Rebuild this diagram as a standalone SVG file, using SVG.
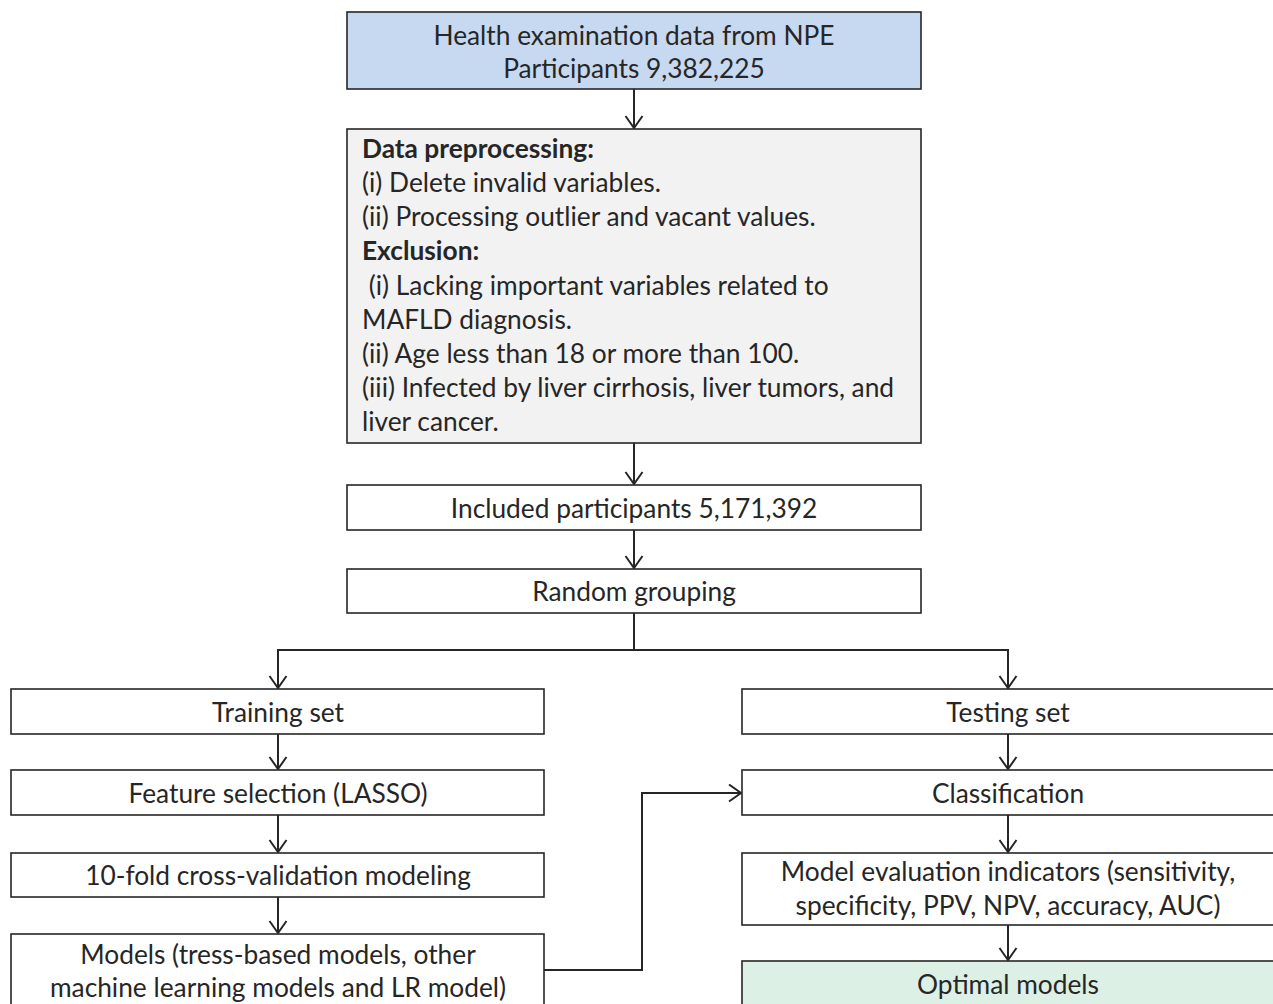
<svg xmlns="http://www.w3.org/2000/svg" width="1273" height="1004" viewBox="0 0 1273 1004">
<style>
.box{stroke:#262626;stroke-width:1.6;fill:#ffffff}
.blue{fill:#c6d9f1}
.grey{fill:#f2f2f2}
.green{fill:#dcf0e5}
text{font-family:Lato,"Liberation Sans",sans-serif;font-size:26.3px;fill:#262626}
.c{text-anchor:middle}
.b{font-weight:bold}
.conn{stroke:#262626;stroke-width:2;fill:none}
</style>
<defs>
<marker id="arr" markerWidth="16" markerHeight="20" refX="13" refY="9.5" orient="auto" markerUnits="userSpaceOnUse">
<path d="M1,1 L13,9.5 L1,18" fill="none" stroke="#262626" stroke-width="2"/>
</marker>
</defs>
<rect width="1273" height="1004" fill="#ffffff"/>
<g id="connectors">
<line class="conn" x1="634" y1="89" x2="634" y2="128" marker-end="url(#arr)"/>
<line class="conn" x1="634" y1="443" x2="634" y2="484" marker-end="url(#arr)"/>
<line class="conn" x1="634" y1="530" x2="634" y2="568" marker-end="url(#arr)"/>
<polyline class="conn" points="634,613 634,650 278,650 278,688" marker-end="url(#arr)"/>
<polyline class="conn" points="634,650 1008,650 1008,688" marker-end="url(#arr)"/>
<line class="conn" x1="278" y1="734" x2="278" y2="769" marker-end="url(#arr)"/>
<line class="conn" x1="278" y1="815" x2="278" y2="852" marker-end="url(#arr)"/>
<line class="conn" x1="278" y1="897" x2="278" y2="933" marker-end="url(#arr)"/>
<line class="conn" x1="1008" y1="734" x2="1008" y2="769" marker-end="url(#arr)"/>
<line class="conn" x1="1008" y1="815" x2="1008" y2="852" marker-end="url(#arr)"/>
<line class="conn" x1="1008" y1="925" x2="1008" y2="960" marker-end="url(#arr)"/>
<polyline class="conn" points="544,970 642,970 642,793 741,793" marker-end="url(#arr)"/>
</g>
<g id="n-source">
<rect class="box blue" x="347" y="12" width="574" height="77"/>
<text class="c" x="634" y="45">Health examination data from NPE</text>
<text class="c" x="634" y="78">Participants 9,382,225</text>
</g>
<g id="n-preprocess">
<rect class="box grey" x="347" y="129" width="574" height="314"/>
<text class="b" x="362" y="158">Data preprocessing:</text>
<text x="362" y="192">(i) Delete invalid variables.</text>
<text x="362" y="226">(ii) Processing outlier and vacant values.</text>
<text class="b" x="362" y="260">Exclusion:</text>
<text x="362" y="295" xml:space="preserve"> (i) Lacking important variables related to</text>
<text x="362" y="329">MAFLD diagnosis.</text>
<text x="362" y="363">(ii) Age less than 18 or more than 100.</text>
<text x="362" y="397">(iii) Infected by liver cirrhosis, liver tumors, and</text>
<text x="362" y="431">liver cancer.</text>
</g>
<g id="n-included">
<rect class="box" x="347" y="485" width="574" height="45"/>
<text class="c" x="634" y="518">Included participants 5,171,392</text>
</g>
<g id="n-random">
<rect class="box" x="347" y="569" width="574" height="44"/>
<text class="c" x="634" y="601">Random grouping</text>
</g>
<g id="n-training">
<rect class="box" x="11" y="689" width="533" height="45"/>
<text class="c" x="278" y="722">Training set</text>
</g>
<g id="n-feature">
<rect class="box" x="11" y="770" width="533" height="45"/>
<text class="c" x="278" y="803">Feature selection (LASSO)</text>
</g>
<g id="n-cv">
<rect class="box" x="11" y="853" width="533" height="44"/>
<text class="c" x="278" y="885">10-fold cross-validation modeling</text>
</g>
<g id="n-models">
<rect class="box" x="11" y="934" width="533" height="80"/>
<text class="c" x="278" y="964">Models (tress-based models, other</text>
<text class="c" x="278" y="997">machine learning models and LR model)</text>
</g>
<g id="n-testing">
<rect class="box" x="742" y="689" width="540" height="45"/>
<text class="c" x="1008" y="722">Testing set</text>
</g>
<g id="n-classification">
<rect class="box" x="742" y="770" width="540" height="45"/>
<text class="c" x="1008" y="803">Classification</text>
</g>
<g id="n-evaluation">
<rect class="box" x="742" y="853" width="540" height="72"/>
<text class="c" x="1008" y="881">Model evaluation indicators (sensitivity,</text>
<text class="c" x="1008" y="915">specificity, PPV, NPV, accuracy, AUC)</text>
</g>
<g id="n-optimal">
<rect class="box green" x="742" y="961" width="540" height="53"/>
<text class="c" x="1008" y="994">Optimal models</text>
</g>
</svg>
